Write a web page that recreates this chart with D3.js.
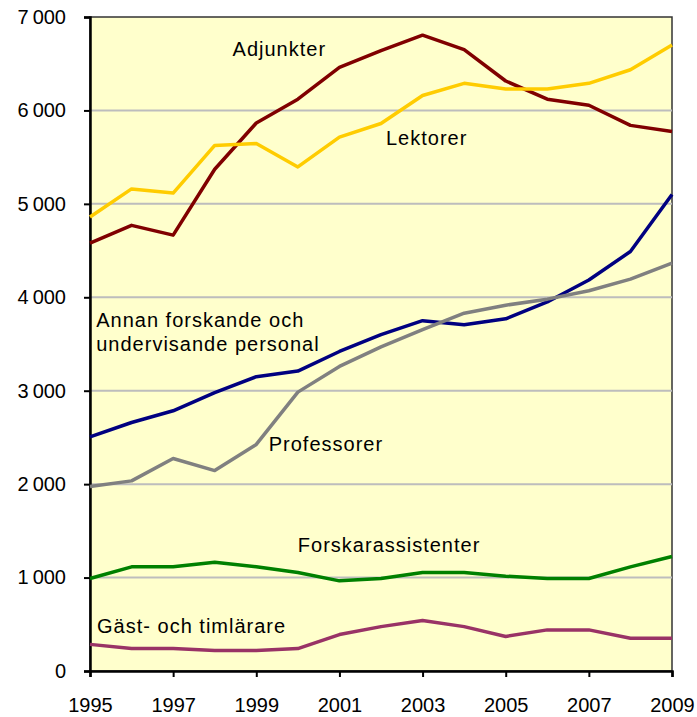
<!DOCTYPE html>
<html>
<head>
<meta charset="utf-8">
<script src="https://cdn.jsdelivr.net/npm/d3@7"></script>
<style>
  body { margin: 0; background: #fff; }
  svg text { font-family: Arial, "Liberation Sans", sans-serif; fill: #000; }
</style>
</head>
<body>
<svg class="chart"></svg>
<script>
//======
// Data
//======

var years = [1995, 1996, 1997, 1998, 1999, 2000, 2001, 2002, 2003, 2004, 2005, 2006, 2007, 2008, 2009];
var yearTicks = [1995, 1997, 1999, 2001, 2003, 2005, 2007, 2009];
var valueTicks = [0, 1000, 2000, 3000, 4000, 5000, 6000, 7000];

var adjunkter     = [4580, 4770, 4665, 5370, 5865, 6120, 6460, 6640, 6805, 6650, 6315, 6120, 6055, 5840, 5775];
var lektorer      = [4860, 5160, 5115, 5625, 5645, 5395, 5715, 5860, 6160, 6290, 6230, 6230, 6290, 6435, 6700];
var annan         = [2505, 2660, 2785, 2980, 3150, 3210, 3420, 3600, 3750, 3705, 3770, 3950, 4185, 4490, 5100];
var professorer   = [1975, 2035, 2275, 2145, 2425, 2985, 3260, 3470, 3655, 3830, 3915, 3980, 4070, 4195, 4365];
var forskarass    = [990, 1115, 1115, 1165, 1115, 1055, 965, 990, 1055, 1055, 1015, 990, 990, 1115, 1225];
var gast          = [285, 240, 240, 220, 220, 240, 390, 475, 540, 475, 370, 440, 440, 350, 350];

var seriesNames = ["Adjunkter", "Lektorer", "Annan forskande och undervisande personal",
  "Professorer", "Forskarassistenter", "Gäst- och timlärare"];
var seriesValues = [adjunkter, lektorer, annan, professorer, forskarass, gast];
var seriesColors = ["#800000", "#FFCC00", "#000080", "#808080", "#008000", "#993366"];

// label text lines, with the year/value where each label sits
var labels = [
  { lines: ["Adjunkter"], year: 1998.43, value: 6580 },
  { lines: ["Lektorer"], year: 2002.12, value: 5625 },
  { lines: ["Annan forskande och", "undervisande personal"], year: 1995.15, value: 3680 },
  { lines: ["Professorer"], year: 1999.3, value: 2355 },
  { lines: ["Forskarassistenter"], year: 2000.0, value: 1275 },
  { lines: ["Gäst- och timlärare"], year: 1995.17, value: 405 }
];

//=======
// Chart
//=======

function buildChart() {
  var width = 697,
    height = 717,
    left = 90,
    right = 672,
    top = 17,
    bottom = 671;

  var svg = d3.select(".chart")
    .attr("width", width)
    .attr("height", height);

  var x = d3.scaleLinear()
    .domain([1995, 2009])
    .range([left, right]);

  var y = d3.scaleLinear()
    .domain([0, 7000])
    .range([bottom, top]);

  // plot background + border
  svg.append("rect")
    .attr("x", left)
    .attr("y", top)
    .attr("width", right - left)
    .attr("height", bottom - top)
    .attr("fill", "#FFFFCC")
    .attr("stroke", "#333")
    .attr("stroke-width", 1.5);

  // gridlines
  svg.append("g")
    .selectAll("line")
    .data(valueTicks.filter(function(d) { return d > 0 && d < 7000; }))
    .enter()
    .append("line")
    .attr("x1", left)
    .attr("x2", right)
    .attr("y1", function(d) { return y(d); })
    .attr("y2", function(d) { return y(d); })
    .attr("stroke", "#BDBDBD")
    .attr("stroke-width", 2);

  // Y-Axis
  var yAxis = svg.append("g")
    .attr("transform", "translate(" + left + ",0)")
    .call(d3.axisLeft(y)
      .tickValues(valueTicks)
      .tickSize(6)
      .tickPadding(18)
      .tickFormat(function(d) { return d3.format(",")(d).replace(",", "\u2009"); }));

  // X-Axis
  var xAxis = svg.append("g")
    .attr("transform", "translate(0," + bottom + ")")
    .call(d3.axisBottom(x)
      .tickValues(yearTicks)
      .tickSize(6)
      .tickPadding(17)
      .tickFormat(d3.format("d")));

  [yAxis, xAxis].forEach(function(ax) {
    ax.select(".domain").attr("stroke", "#000").attr("stroke-width", 2.5);
    ax.selectAll(".tick line").attr("stroke", "#000").attr("stroke-width", 2);
    ax.selectAll("text")
      .attr("font-size", "20px")
      .attr("font-family", "Arial, 'Liberation Sans', sans-serif")
      .attr("fill", "#000");
  });
  xAxis.selectAll("text").attr("dy", "0.9em");

  // lines
  var line = d3.line()
    .x(function(d, i) { return x(years[i]); })
    .y(function(d) { return y(d); });

  svg.append("g")
    .selectAll("path")
    .data(seriesValues)
    .enter()
    .append("path")
    .attr("d", line)
    .attr("fill", "none")
    .attr("stroke", function(d, i) { return seriesColors[i]; })
    .attr("stroke-width", 3.5)
    .attr("stroke-linejoin", "round");

  // series labels
  labels.forEach(function(lb) {
    var t = svg.append("text")
      .attr("x", x(lb.year))
      .attr("y", y(lb.value))
      .attr("font-size", "20px")
      .attr("letter-spacing", "1px");
    lb.lines.forEach(function(s, i) {
      t.append("tspan")
        .attr("x", x(lb.year))
        .attr("dy", i === 0 ? 0 : 24)
        .text(s);
    });
  });
}

buildChart();
</script>
</body>
</html>
